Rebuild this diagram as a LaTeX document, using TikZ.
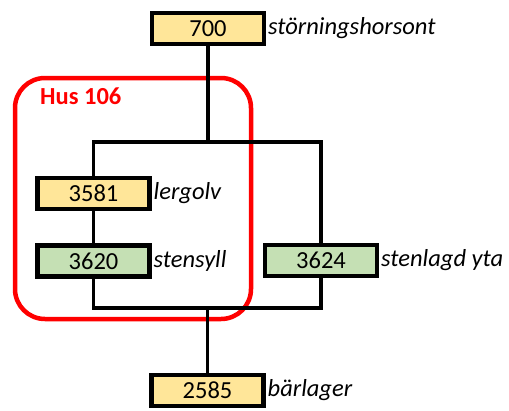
\documentclass[tikz,border=0pt]{standalone}
\usepackage{fontspec}
\setmainfont{Carlito}
\usepackage{tikz}
\usetikzlibrary{positioning,calc}
\definecolor{lyellow}{HTML}{FFE699}
\definecolor{lgreen}{HTML}{C5E0B4}
\definecolor{hred}{HTML}{FF0000}
\tikzset{
 unit/.style={draw=black,line width=4.5pt,minimum width=112pt,minimum height=31pt,
   inner sep=0pt,outer sep=0pt,font=\fontsize{24.5}{28}\selectfont},
 yellowunit/.style={unit,fill=lyellow},
 greenunit/.style={unit,fill=lgreen},
 tag/.style={inner sep=0pt,anchor=west,font=\fontsize{24.5}{28}\selectfont\itshape},
 conn/.style={line width=3.5pt,draw=black},
 house/.style={draw=hred,line width=4.5pt,rounded corners=30pt}
}

\begin{document}
\begin{tikzpicture}[x=1pt,y=-1pt,node distance=4pt]
 \useasboundingbox (0,0) rectangle (509,410);
 \draw[house] (15,78) rectangle (251,319);
 \node[text=hred,font=\fontsize{24.5}{28}\selectfont\bfseries,anchor=west,inner sep=0pt] (hus) at (40,96) {Hus 106};
 \node[yellowunit] (u700) at (208,28.5) {700};
 \node[yellowunit] (u3581) at (93.5,193.5) {3581};
 \node[greenunit] (u3620) at (93.5,261) {3620};
 \node[greenunit] (u3624) at (321,260.5) {3624};
 \node[yellowunit] (u2585) at (207.5,390.5) {2585};
 \node[tag,right=of u700] (t700) {störningshorsont};
 \node[tag,right=of u3581] (t3581) {lergolv};
 \node[tag,right=of u3620] (t3620) {stensyll};
 \node[tag,right=of u3624] (t3624) {stenlagd yta};
 \node[tag,right=of u2585] (t2585) {bärlager};
 \coordinate (topbar) at (208,142);
 \coordinate (botbar) at (207.5,308);
 \draw[conn] (u700) -- (topbar);
 \draw[conn] (u3581) |- (topbar) -| (u3624);
 \draw[conn] (u3581) -- (u3620);
 \draw[conn] (u3620) |- (botbar) -| (u3624);
 \draw[conn] (botbar) -- (u2585);
\end{tikzpicture}
\end{document}
